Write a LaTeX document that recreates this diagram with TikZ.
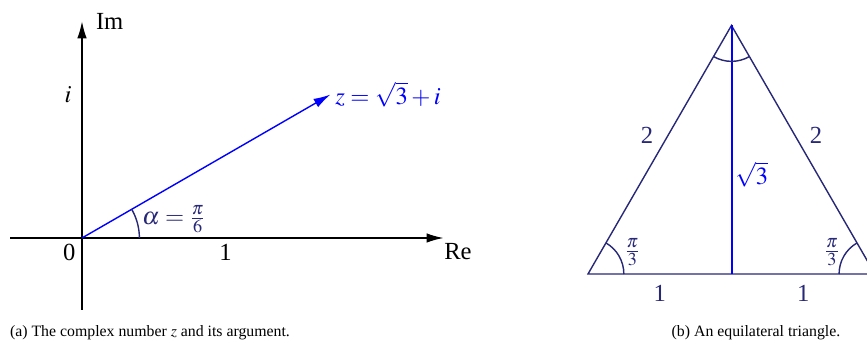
\documentclass[tikz,border=0pt]{standalone}
\usepackage{mathptmx}
\usepackage{fontspec}
\setmainfont{Liberation Serif}
\usetikzlibrary{positioning,arrows.meta}
\definecolor{darknavy}{RGB}{40,40,120}

\begin{document}
\begin{tikzpicture}[
  x=0.02cm, y=0.02cm,
  line width=0.8pt,
  every node/.style={font=\fontsize{14}{16}\selectfont},
  axis/.style={-{Latex[length=3.4mm,width=1.9mm]}},
  caption/.style={font=\fontsize{9}{11}\selectfont}
]
\useasboundingbox (0,0) rectangle (867,351);
% complex plane
\begin{scope}[shift={(82,113)}, x=2.87cm, y=2.87cm]
  \coordinate (O) at (0,0);
  \coordinate (xstart) at (-0.5,0);
  \coordinate (xend) at (2.52,0);
  \coordinate (ystart) at (0,-0.5);
  \coordinate (yend) at (0,1.51);
  \coordinate (ione) at (0,1);
  \coordinate (xone) at (1,0);
  \coordinate (Z) at ({sqrt(3)},1);
  \draw[axis] (xstart) -- (xend);
  \draw[axis] (ystart) -- (yend);
  \draw[axis,blue] (O) -- (Z);
  % angle alpha
  \draw[darknavy]
    ([shift={(0:0.4)}]O) arc[start angle=0,end angle=30,radius=0.4];
  \node (imlab) [right=1.5mm of yend] {Im};
  \node (relab) [anchor=north west,inner sep=0pt] at ([yshift=-1mm]xend) {Re};
  \node (ilab) [left=0.8mm of ione] {$i$};
  \node (zerolab) [below left] at (O) {0};
  \node (onelab) [below] at (xone) {1};
  \node (zlab) [right=0.5mm of Z,inner sep=1pt,blue] {$z=\sqrt{3}\mathbin{+}i$};
  \node (alab) [darknavy] at (0.64,0.13) {$\alpha=\frac{\pi}{6}$};
\end{scope}
% equilateral triangle
\begin{scope}[shift={(588,77)}, x=2.87cm, y=2.87cm]
  \coordinate (A) at (0,0);
  \coordinate (B) at (2,0);
  \coordinate (C) at (1,{sqrt(3)});
  \coordinate (M) at (1,0);
  \draw[darknavy] (A) -- (B) -- (C) -- cycle;
  \draw[blue,line width=1pt] ([xshift=0.1mm]M) -- ([xshift=0.1mm]C)
    node[pos=0.4,right,inner sep=1.5pt] (hlab) {$\sqrt{3}$};
  % angle marks
  \draw[darknavy]
    ([shift={(0:0.25)}]A) arc[start angle=0,end angle=60,radius=0.25];
  \draw[darknavy]
    ([shift={(120:0.25)}]B) arc[start angle=120,end angle=180,radius=0.25];
  \draw[darknavy]
    ([shift={(240:0.25)}]C) arc[start angle=240,end angle=300,radius=0.25];
  \path (A) -- (C) node[midway,above left,darknavy] (lsidelab) {2};
  \path (B) -- (C) node[midway,above right,darknavy] (rsidelab) {2};
  \path (A) -- (M) node[midway,below=1mm,darknavy] (lhalflab) {1};
  \path (M) -- (B) node[midway,below=1mm,darknavy] (rhalflab) {1};
  \node (langlab) [darknavy] at (0.31,0.15) {$\frac{\pi}{3}$};
  \node (ranglab) [darknavy] at (1.70,0.15) {$\frac{\pi}{3}$};
\end{scope}
% captions
\node (capa) [caption] at (150,18) {(a) The complex number $z$ and its argument.};
\node (capb) [caption] at (756,18) {(b) An equilateral triangle.};
\end{tikzpicture}
\end{document}
